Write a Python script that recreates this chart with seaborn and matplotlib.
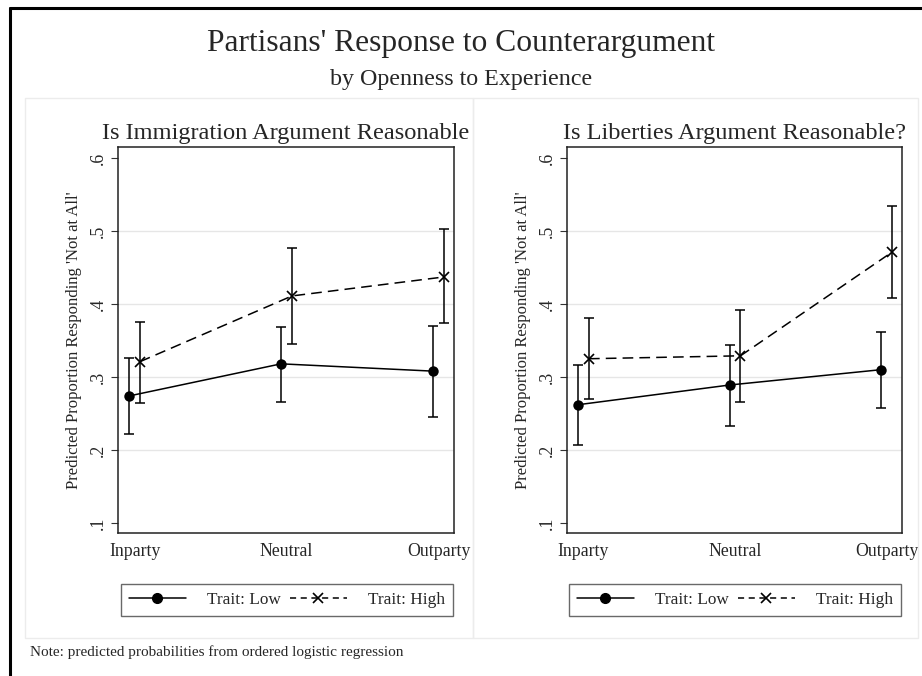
import numpy as np
import pandas as pd
import seaborn as sns
import matplotlib.pyplot as plt
from matplotlib.lines import Line2D
from matplotlib.patches import Rectangle

# data (predicted proportions with 95% CIs)
categories = ['Inparty', 'Neutral', 'Outparty']
panel_titles = ['Is Immigration Argument Reasonable', 'Is Liberties Argument Reasonable?']

imm_low = [0.274, 0.318, 0.308]
imm_low_lo = [0.222, 0.266, 0.245]
imm_low_hi = [0.326, 0.369, 0.370]
imm_high = [0.321, 0.411, 0.437]
imm_high_lo = [0.264, 0.345, 0.374]
imm_high_hi = [0.375, 0.477, 0.503]

lib_low = [0.262, 0.289, 0.310]
lib_low_lo = [0.207, 0.233, 0.258]
lib_low_hi = [0.317, 0.344, 0.362]
lib_high = [0.325, 0.329, 0.471]
lib_high_lo = [0.270, 0.266, 0.408]
lib_high_hi = [0.381, 0.392, 0.534]

y_ticks = [0.1, 0.2, 0.3, 0.4, 0.5, 0.6]
y_ticklabels = ['.1', '.2', '.3', '.4', '.5', '.6']

sns.set_style('white')
plt.rcParams['font.family'] = ['Liberation Serif', 'DejaVu Serif']

fig = plt.figure(figsize=(9.22, 6.76), dpi=100)
W, H = 922, 676


def fx(px):
    return px / W


def fy(py):
    return 1 - py / H


# outer frame (only top and left edges are inside the crop)
fig.add_artist(Line2D([fx(10), fx(10)], [fy(8), 0], color='black', lw=2.2))
fig.add_artist(Line2D([fx(10), 1], [fy(8), fy(8)], color='black', lw=2.2))

# light panel boxes of the combined graph
for x0, x1 in [(25, 473), (473, 918)]:
    fig.add_artist(Rectangle((fx(x0), fy(638)), fx(x1 - x0), (638 - 98) / H,
                             fill=False, edgecolor='#ececec', lw=1))

fig.text(0.5, fy(43), "Partisans' Response to Counterargument", ha='center', va='center', fontsize=22.7)
fig.text(0.5, fy(80), 'by Openness to Experience', ha='center', va='center', fontsize=17.3)
fig.text(fx(30), fy(652), 'Note: predicted probabilities from ordered logistic regression',
         ha='left', va='center', fontsize=11)

panels = [
    (118, 454, imm_low, imm_low_lo, imm_low_hi, imm_high, imm_high_lo, imm_high_hi, 287),
    (567, 902, lib_low, lib_low_lo, lib_low_hi, lib_high, lib_high_lo, lib_high_hi, 735),
]

for i, (x0, x1, lo, lo_l, lo_h, hi, hi_l, hi_h, leg_x) in enumerate(panels):
    ax = fig.add_axes([fx(x0), fy(533), fx(x1 - x0), (533 - 147) / H])
    pos = np.arange(len(categories))
    off = 0.036
    low_df = pd.DataFrame({'x': pos - off, 'y': lo})
    high_df = pd.DataFrame({'x': pos + off, 'y': hi})
    # CI bars
    ax.errorbar(pos - off, lo, yerr=[np.array(lo) - np.array(lo_l), np.array(lo_h) - np.array(lo)],
                fmt='none', ecolor='black', elinewidth=1.1, capsize=3.5, capthick=1.1, zorder=2)
    ax.errorbar(pos + off, hi, yerr=[np.array(hi) - np.array(hi_l), np.array(hi_h) - np.array(hi)],
                fmt='none', ecolor='black', elinewidth=1.1, capsize=3.5, capthick=1.1, zorder=2)
    sns.lineplot(data=low_df, x='x', y='y', marker='o', color='black', lw=1.1,
                 markersize=7.5, markeredgecolor='black', markeredgewidth=0, ax=ax, zorder=3)
    sns.lineplot(data=high_df, x='x', y='y', marker='x', color='black', lw=1.1,
                 markersize=7, markeredgecolor='black', markeredgewidth=1.2, ax=ax, zorder=3)
    ax.lines[-1].set_dashes((7, 4))

    ax.set_xlim(-0.109, 2.102)
    ax.set_ylim(0.0863, 0.615)
    ax.set_xticks(pos)
    ax.set_xticklabels(categories, fontsize=12.8)
    ax.set_yticks(y_ticks)
    ax.set_yticklabels(y_ticklabels, fontsize=12.8, rotation=90, va='center')
    ax.tick_params(axis='x', length=0, pad=7)
    ax.tick_params(axis='y', length=5, width=0.8, color='#333333', direction='out', pad=3, left=True)
    for yv in y_ticks[1:-1]:
        ax.axhline(yv, color='#e6e6e6', lw=1, zorder=0)
    for s in ax.spines.values():
        s.set_color('#222222')
        s.set_linewidth(1.1)
    ax.set_xlabel('')
    ax.set_ylabel("Predicted Proportion Responding 'Not at All'", fontsize=12, labelpad=6)
    ax.set_title(panel_titles[i], fontsize=17.6, pad=6)

    handles = [
        Line2D([], [], color='black', lw=1.1, marker='o', markersize=7),
        Line2D([], [], color='black', lw=1.1, ls=(0, (4, 3)), marker='x', markersize=7, markeredgewidth=1.2),
    ]
    leg = fig.legend(handles, ['Trait: Low', 'Trait: High'], ncol=2, loc='center',
                     bbox_to_anchor=(fx(leg_x), fy(600)), frameon=True, fancybox=False,
                     edgecolor='#444444', fontsize=12.4, handlelength=3.3, columnspacing=0.5,
                     borderpad=0.45, handletextpad=1.25)
    leg.get_frame().set_linewidth(1.0)

fig.savefig('out.png', dpi=100)
